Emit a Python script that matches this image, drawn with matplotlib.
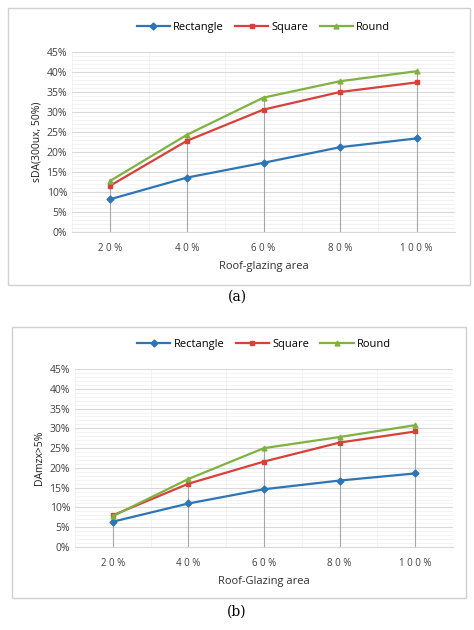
import matplotlib.pyplot as plt
from matplotlib.patches import Rectangle
from matplotlib.ticker import MultipleLocator, PercentFormatter

x_labels = ["20%", "40%", "60%", "80%", "100%"]
series_names = ["Rectangle", "Square", "Round"]
colors = ["#2E75B6", "#D9403A", "#7FB241"]
markers = ["D", "s", "^"]

sda_rect = [8.2, 13.6, 17.3, 21.2, 23.4]
sda_square = [11.6, 22.8, 30.6, 35.0, 37.4]
sda_round = [12.8, 24.3, 33.6, 37.7, 40.2]

dam_rect = [6.4, 11.0, 14.6, 16.8, 18.6]
dam_square = [8.0, 16.0, 21.6, 26.4, 29.2]
dam_round = [7.8, 17.2, 25.0, 27.8, 30.8]

W, H = 474, 630
fig = plt.figure(figsize=(W / 100, H / 100), dpi=100)
plt.rcParams['font.family'] = ['Open Sans', 'DejaVu Sans']


def panel(box, axrect, data, ylabel, xlabel, cap, cap_y):
    bx0, by0, bx1, by1 = box
    fig.patches.append(Rectangle((bx0 / W, 1 - by1 / H), (bx1 - bx0) / W, (by1 - by0) / H,
                                 transform=fig.transFigure, fill=False, ec="#D0D0D0", lw=1))
    x0, y0, x1, y1 = axrect
    ax = fig.add_axes([x0 / W, 1 - y1 / H, (x1 - x0) / W, (y1 - y0) / H])
    xs = range(len(x_labels))
    ax.set_xlim(-0.5, len(x_labels) - 0.5)
    ax.set_ylim(0, 45)
    ax.yaxis.set_major_locator(MultipleLocator(5))
    ax.yaxis.set_minor_locator(MultipleLocator(1))
    ax.xaxis.set_minor_locator(MultipleLocator(0.5))
    ax.yaxis.set_major_formatter(PercentFormatter(decimals=0))
    ax.grid(which="major", axis="y", color="#D9D9D9", lw=0.8)
    ax.grid(which="minor", color="#EFEFEF", lw=0.5)
    ax.set_axisbelow(True)
    for i in xs:
        ax.vlines(i, 0, max(d[i] for d in data), color="#A6A6A6", lw=0.8, zorder=1)
    for vals, name, c, m in zip(data, series_names, colors, markers):
        ax.plot(xs, vals, color=c, marker=m, ms=3.5, lw=1.6, label=name, zorder=3)
    ax.set_xticks(list(xs))
    ax.set_xticklabels([" ".join(l) for l in x_labels], fontsize=7, color="#404040")
    ax.tick_params(axis="y", labelsize=7.5, colors="#404040", length=0)
    ax.tick_params(axis="x", length=0, pad=8)
    ax.tick_params(which="minor", length=0)
    for s in ["top", "right", "left"]:
        ax.spines[s].set_visible(False)
    ax.spines["bottom"].set_color("#D9D9D9")
    ax.set_ylabel(ylabel, fontsize=7.5, color="#202020", labelpad=3)
    ax.set_xlabel(xlabel, fontsize=8, color="#303030", labelpad=5)
    ax.legend(loc="lower center", bbox_to_anchor=(0.5, 1.08), ncol=3, frameon=False,
              fontsize=8, handlelength=3, columnspacing=1.0, handletextpad=0.3, borderaxespad=0)
    fig.text(0.5, 1 - cap_y / H, cap, ha="center", va="center", fontsize=10,
             family="DejaVu Serif")


panel((8, 8, 470, 285), (72, 52, 455, 232), [sda_rect, sda_square, sda_round],
      "sDA(300ux, 50%)", "Roof-glazing area", "(a)", 297)
panel((12, 327, 466, 598), (75, 369, 453, 547), [dam_rect, dam_square, dam_round],
      "DAmzx>5%", "Roof-Glazing area", "(b)", 612)

fig.savefig("out.png", dpi=100)
